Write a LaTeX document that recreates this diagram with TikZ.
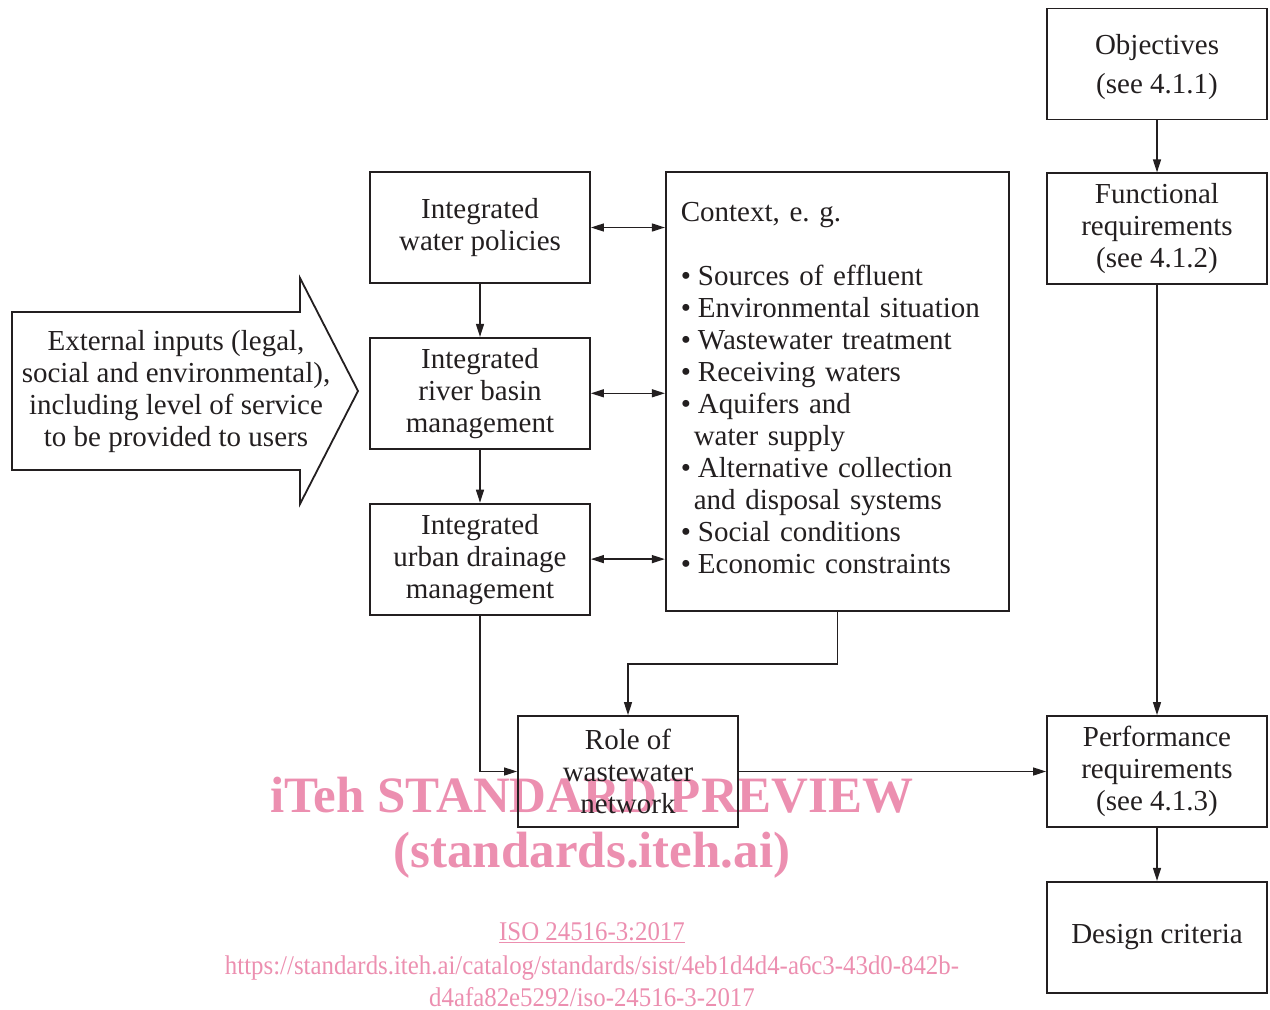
\documentclass[tikz,border=0pt]{standalone}
\usepackage{fontspec}
\setmainfont{Liberation Serif}
\newfontfamily\stampfont[FakeStretch=0.92]{Liberation Serif}
\usepackage{xcolor}
\usepackage{tikz}
\usetikzlibrary{arrows.meta,positioning}
\definecolor{ink}{HTML}{231F20}
\definecolor{stamp}{HTML}{EC8FB0}
\tikzset{
  stepbox/.style={draw=ink, line width=1.8pt, minimum width=220pt, minimum height=111pt, inner sep=0pt, align=center, text=ink, font=\fontsize{29}{32}\selectfont},
  arr/.style={-{Triangle[length=13pt,width=8pt]}, line width=1.3pt, draw=ink},
  dblarr/.style={{Triangle[length=13pt,width=8pt]}-{Triangle[length=13pt,width=8pt]}, line width=1.3pt, draw=ink},
  stamptext/.style={text=stamp, inner sep=0pt, align=center}
}
\frenchspacing

\begin{document}
\begin{tikzpicture}[x=1pt, y=1pt]
  \useasboundingbox (0,0) rectangle (1270,-1010);

  \node[stamptext, font=\fontsize{51}{60}\selectfont\bfseries] (wmtitle) at (592,-795) {iTeh STANDARD PREVIEW};
  \node[stamptext, font=\fontsize{51}{60}\selectfont\bfseries] (wmsite) at (592,-855) {(standards.iteh.ai)};
  \node[stamptext, font=\stampfont\fontsize{27}{32}\selectfont] (wmcode) at (592,-933) {\underline{ISO 24516-3:2017}};
  \node[stamptext, font=\stampfont\fontsize{27}{32}\selectfont] (wmurl) at (592,-981) {https://standards.iteh.ai/catalog/standards/sist/4eb1d4d4-a6c3-43d0-842b-\\d4afa82e5292/iso-24516-3-2017};

  \draw[line width=1.8pt, draw=ink] (12,-312) -- (300,-312) -- (300,-278) -- (358,-391) -- (300,-504) -- (300,-470) -- (12,-470) -- cycle;
  \node[align=center, text=ink, font=\fontsize{29}{32}\selectfont] (inputs) at (176,-392) {External inputs (legal,\\social and environmental),\\including level of service\\to be provided to users};

  \node[stepbox] (policies) at (480,-227.5) {Integrated\\water policies};
  \node[stepbox, below=53pt of policies] (basin) {Integrated\\river basin\\management};
  \node[stepbox, below=53pt of basin] (drainage) {Integrated\\urban drainage\\management};

  \node[stepbox, right=74pt of policies.north east, anchor=north west, minimum width=343pt, minimum height=439pt, text width=313pt, align=left] (context) {Context, e. g.\\[32pt]
    \textbullet\hspace{7pt}Sources of effluent\\
    \textbullet\hspace{7pt}Environmental situation\\
    \textbullet\hspace{7pt}Wastewater treatment\\
    \textbullet\hspace{7pt}Receiving waters\\
    \textbullet\hspace{7pt}Aquifers and\\
    \hspace*{13pt}water supply\\
    \textbullet\hspace{7pt}Alternative collection\\
    \hspace*{13pt}and disposal systems\\
    \textbullet\hspace{7pt}Social conditions\\
    \textbullet\hspace{7pt}Economic constraints\rule[-8pt]{0pt}{0pt}};

  \node[stepbox] (objectives) at (1157,-64) {\rule{0pt}{26pt}Objectives\\[7pt](see 4.1.1)};
  \node[stepbox, below=52pt of objectives] (functional) {Functional\\requirements\\(see 4.1.2)};
  \node[stepbox] (performance) at (1157,-771.5) {Performance\\requirements\\(see 4.1.3)};
  \node[stepbox, below=53pt of performance] (design) {Design criteria};
  \node[stepbox] (role) at (628,-771.5) {Role of\\wastewater\\network};

  \draw[arr] (objectives) -- (functional);
  \draw[arr] (functional) -- (performance);
  \draw[arr] (performance) -- (design);
  \draw[arr] (policies) -- (basin);
  \draw[arr] (basin) -- (drainage);
  \draw[dblarr] (policies.east) -- (policies.east -| context.west);
  \draw[dblarr] (basin.east) -- (basin.east -| context.west);
  \draw[dblarr] (drainage.east) -- (drainage.east -| context.west);
  \draw[arr] (drainage.south) |- (role.west);
  \draw[arr] (context.south) -- ++(0,-52) -| (role.north);
  \draw[arr] (role.east) -- (performance.west);
\end{tikzpicture}
\end{document}
